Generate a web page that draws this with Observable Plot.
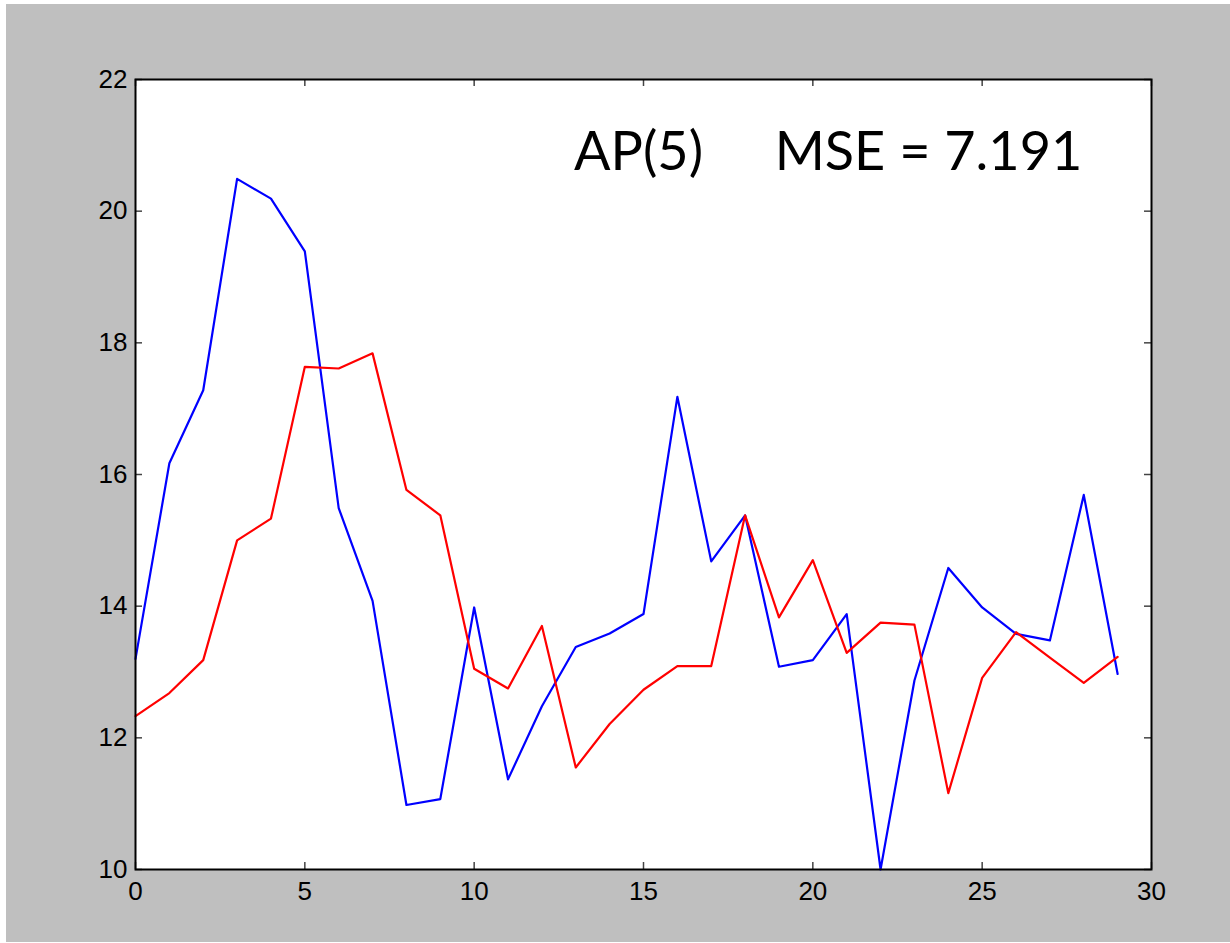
<!DOCTYPE html>
<html><head><meta charset="utf-8">
<script src="https://cdn.jsdelivr.net/npm/d3@7"></script>
<script src="https://cdn.jsdelivr.net/npm/@observablehq/plot@0.6"></script>
<style>
html,body{margin:0;padding:0;background:#fff;}
#chart{position:absolute;left:6px;top:4px;}
</style></head><body><div id="chart"></div>
<script>
const steps = [0,1,2,3,4,5,6,7,8,9,10,11,12,13,14,15,16,17,18,19,20,21,22,23,24,25,26,27,28,29];
const actual = [13.2,16.17,17.28,20.49,20.19,19.39,15.49,14.08,10.98,11.07,13.98,11.37,12.48,13.38,13.585,13.88,17.18,14.68,15.38,13.08,13.18,13.88,10.0,12.87,14.58,13.98,13.58,13.48,15.69,12.97];
const predicted = [12.33,12.68,13.18,15.0,15.33,17.635,17.61,17.84,15.765,15.38,13.05,12.75,13.7,11.55,12.21,12.73,13.09,13.09,15.38,13.83,14.7,13.29,13.75,13.72,11.16,12.91,13.605,13.22,12.835,13.23];
const xTicks = [0,5,10,15,20,25,30];
const yTicks = [10,12,14,16,18,20,22];
const modelLabel = "AP(5)";
const metricLabel = "MSE = 7.191";

const W = 1224, H = 938, mL = 129, mT = 75, mR = 79, mB = 73;
const innerW = W - mL - mR, innerH = H - mT - mB;

const actualData = steps.map((s, i) => ({x: s, y: actual[i]}));
const predData = steps.map((s, i) => ({x: s, y: predicted[i]}));

const tickStyle = {stroke: "#444", strokeWidth: 1.5};
const titleFont = {fontFamily: "Lato", fontSize: 54, fontWeight: 400, fill: "black", lineAnchor: "middle"};

const chart = Plot.plot({
  width: W, height: H,
  marginLeft: mL, marginTop: mT, marginRight: mR, marginBottom: mB,
  style: {background: "#bfbfbf", fontFamily: "Liberation Sans", fontSize: "26px", color: "black"},
  x: {domain: [0, 30], label: null},
  y: {domain: [10, 22], label: null},
  marks: [
    Plot.frame({fill: "white"}),
    Plot.line(actualData, {x: "x", y: "y", stroke: "#0000ff", strokeWidth: 2.2}),
    Plot.line(predData, {x: "x", y: "y", stroke: "#ff0000", strokeWidth: 2.2}),
    Plot.tickX(xTicks, {x: d => d, insetTop: innerH - 7, ...tickStyle}),
    Plot.tickX(xTicks, {x: d => d, insetBottom: innerH - 7, ...tickStyle}),
    Plot.tickY(yTicks, {y: d => d, insetRight: innerW - 7, ...tickStyle}),
    Plot.tickY(yTicks, {y: d => d, insetLeft: innerW - 7, ...tickStyle}),
    Plot.frame({stroke: "black", strokeWidth: 2}),
    Plot.axisX({ticks: xTicks, tickSize: 0, tickPadding: 12, fontSize: 26, label: null}),
    Plot.axisY({ticks: yTicks, tickSize: 0, tickPadding: 8, fontSize: 26, label: null}),
    Plot.text([modelLabel], {text: d => d, frameAnchor: "top-left", textAnchor: "middle", dx: 503, dy: 73.5, ...titleFont}),
    Plot.text([metricLabel], {text: d => d, frameAnchor: "top-left", textAnchor: "middle", dx: 793, dy: 73.5, ...titleFont})
  ]
});
document.getElementById("chart").appendChild(chart);
</script></body></html>
